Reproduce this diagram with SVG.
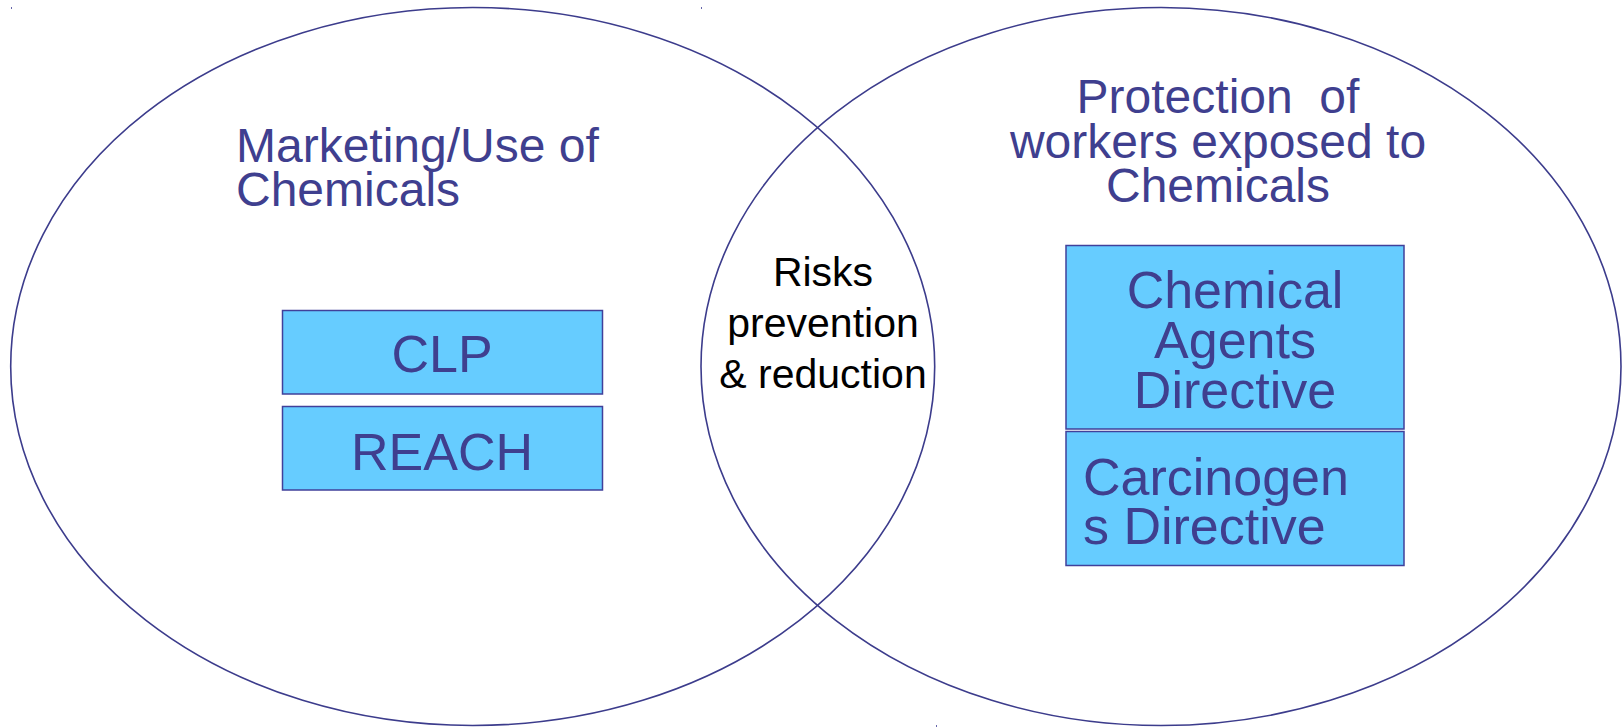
<svg xmlns="http://www.w3.org/2000/svg" width="1622" height="727" viewBox="0 0 1622 727">
<style>
.ell{fill:none;stroke:#3c3c8c;stroke-width:1.6}
.box{fill:#66ccff;stroke:#40409a;stroke-width:1.5}
.t{font-family:"Liberation Sans",Arial,sans-serif;fill:#3f3f8f}
.r{font-family:"Liberation Sans",Arial,sans-serif;fill:#000}
.dot{fill:#6666aa}
</style>
<rect width="1622" height="727" fill="#fff"/>
<rect class="dot" x="11" y="7" width="1" height="2"/>
<rect class="dot" x="701" y="7" width="1" height="2"/>
<rect class="dot" x="936" y="725" width="1" height="2"/>
<g id="left-set">
<ellipse class="ell" cx="472.7" cy="366.5" rx="462" ry="359"/>
<text class="t" font-size="48"><tspan x="236" y="162">Marketing/Use of</tspan><tspan x="236" y="205.5">Chemicals</tspan></text>
</g>
<g id="right-set">
<ellipse class="ell" cx="1161" cy="366.5" rx="460" ry="359"/>
<text class="t" font-size="48" text-anchor="middle" xml:space="preserve"><tspan x="1218" y="113">Protection  of</tspan><tspan x="1218" y="157.5">workers exposed to</tspan><tspan x="1218" y="202">Chemicals</tspan></text>
</g>
<g id="intersection">
<text class="r" font-size="41" text-anchor="middle"><tspan x="823" y="286">Risks</tspan><tspan x="823" y="337">prevention</tspan><tspan x="823" y="388">&amp; reduction</tspan></text>
</g>
<g id="clp">
<rect class="box" x="282.5" y="310.5" width="320" height="83.5"/>
<text class="t" font-size="52" text-anchor="middle" x="442" y="372">CLP</text>
</g>
<g id="reach">
<rect class="box" x="282.5" y="406.5" width="320" height="83.5"/>
<text class="t" font-size="52" text-anchor="middle" x="442" y="470">REACH</text>
</g>
<g id="cad">
<rect class="box" x="1066" y="245.5" width="338" height="183.5"/>
<text class="t" font-size="52" text-anchor="middle"><tspan x="1235" y="308">Chemical</tspan><tspan x="1235" y="358">Agents</tspan><tspan x="1235" y="408">Directive</tspan></text>
</g>
<g id="carcinogens">
<rect class="box" x="1066" y="431.5" width="338" height="134"/>
<text class="t" font-size="52"><tspan x="1083" y="495">Carcinogen</tspan><tspan x="1083" y="544">s Directive</tspan></text>
</g>
<g id="connectors"></g>
</svg>
